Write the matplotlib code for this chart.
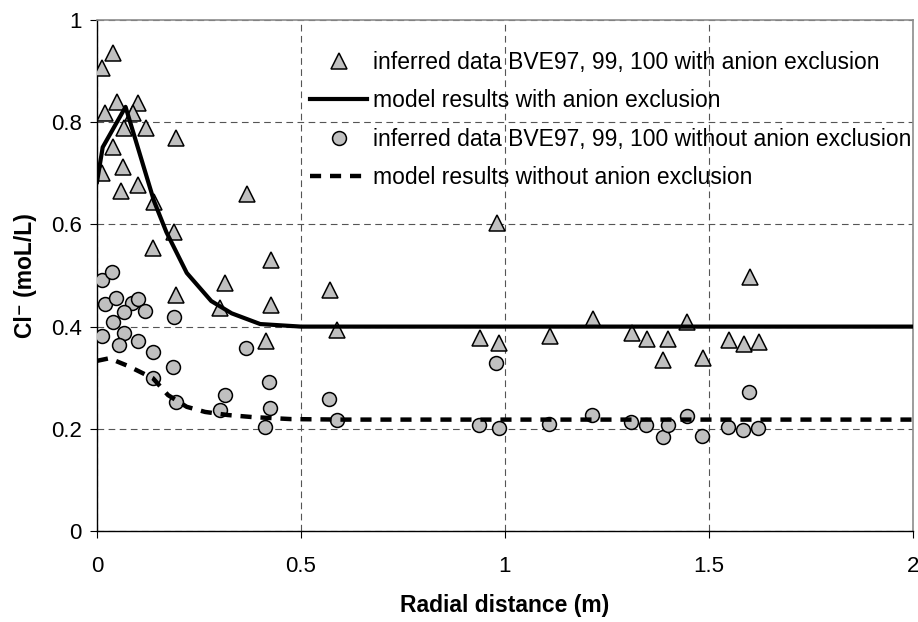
import matplotlib

matplotlib.use("Agg")
import matplotlib.pyplot as plt

plt.rcParams["font.family"] = ["Liberation Sans", "DejaVu Sans"]

# inferred data with anion exclusion (triangles)
with_x = [0.012, 0.040, 0.020, 0.049, 0.101, 0.088, 0.066, 0.119, 0.040, 0.064,
          0.013, 0.058, 0.101, 0.140, 0.193, 0.138, 0.189, 0.367, 0.426, 0.314,
          0.193, 0.426, 0.301, 0.414, 0.571, 0.588, 0.980, 0.939, 0.985, 1.110,
          1.215, 1.311, 1.348, 1.400, 1.388, 1.446, 1.485, 1.549, 1.586, 1.623,
          1.600]
with_y = [0.906, 0.935, 0.818, 0.840, 0.838, 0.818, 0.789, 0.789, 0.752, 0.713,
          0.700, 0.666, 0.678, 0.643, 0.769, 0.553, 0.586, 0.659, 0.530, 0.485,
          0.462, 0.442, 0.436, 0.372, 0.472, 0.393, 0.603, 0.378, 0.368, 0.381,
          0.414, 0.388, 0.375, 0.375, 0.335, 0.409, 0.338, 0.374, 0.366, 0.370,
          0.497]

# inferred data without anion exclusion (circles)
without_x = [0.012, 0.037, 0.019, 0.047, 0.086, 0.100, 0.065, 0.118, 0.189, 0.038,
             0.012, 0.065, 0.055, 0.100, 0.137, 0.186, 0.137, 0.193, 0.364, 0.422,
             0.314, 0.301, 0.424, 0.412, 0.569, 0.588, 0.978, 0.936, 0.985, 1.108,
             1.213, 1.309, 1.345, 1.387, 1.400, 1.446, 1.483, 1.547, 1.583, 1.620,
             1.598]
without_y = [0.491, 0.507, 0.444, 0.456, 0.446, 0.454, 0.429, 0.430, 0.418, 0.409,
             0.382, 0.388, 0.364, 0.371, 0.350, 0.320, 0.300, 0.252, 0.358, 0.292,
             0.266, 0.237, 0.241, 0.204, 0.258, 0.217, 0.329, 0.207, 0.202, 0.209,
             0.227, 0.213, 0.207, 0.184, 0.207, 0.225, 0.186, 0.204, 0.198, 0.201,
             0.272]

# model results with anion exclusion
model_with_x = [0.0, 0.014, 0.07, 0.14, 0.17, 0.22, 0.28, 0.33, 0.4, 0.5, 0.6, 0.7,
                0.8, 0.9, 1.0, 1.1, 1.2, 1.3, 1.4, 1.5, 1.6, 1.7, 1.8, 1.9, 2.0]
model_with_y = [0.683, 0.751, 0.830, 0.645, 0.585, 0.505, 0.450, 0.426, 0.405, 0.400,
                0.400, 0.400, 0.400, 0.400, 0.400, 0.400, 0.400, 0.400, 0.400, 0.400,
                0.400, 0.400, 0.400, 0.400, 0.400]

# model results without anion exclusion
model_without_x = [0.0, 0.03, 0.076, 0.137, 0.174, 0.22, 0.265, 0.32, 0.38, 0.475, 0.6,
                   0.7, 0.8, 0.9, 1.0, 1.1, 1.2, 1.3, 1.4, 1.5, 1.6, 1.7, 1.8, 1.9, 2.0]
model_without_y = [0.333, 0.338, 0.323, 0.299, 0.266, 0.243, 0.233, 0.227, 0.223, 0.219,
                   0.218, 0.218, 0.218, 0.218, 0.218, 0.218, 0.218, 0.218, 0.218, 0.218,
                   0.218, 0.218, 0.218, 0.218, 0.218]

fig = plt.figure(figsize=(9.18, 6.22), dpi=100)
ax = fig.add_axes([97 / 918, 1 - 531 / 622, 816 / 918, 511 / 622])

ax.plot(with_x, with_y, linestyle="none", marker="^", markersize=11,
        markerfacecolor="#c0c0c0", markeredgecolor="black", markeredgewidth=1.1,
        label="inferred data BVE97, 99, 100 with anion exclusion", zorder=3)
ax.plot(model_with_x, model_with_y, color="black", linewidth=3.0,
        label="model results with anion exclusion", zorder=4)
ax.plot(without_x, without_y, linestyle="none", marker="o", markersize=10,
        markerfacecolor="#c0c0c0", markeredgecolor="black", markeredgewidth=1.1,
        label="inferred data BVE97, 99, 100 without anion exclusion", zorder=3)
ax.plot(model_without_x, model_without_y, color="black", linewidth=3.2,
        dashes=(2.5, 2.0), label="model results without anion exclusion", zorder=4)

ax.set_xlim(0, 2)
ax.set_ylim(0, 1)
ax.set_xticks([0, 0.5, 1, 1.5, 2])
ax.set_xticklabels(["0", "0.5", "1", "1.5", "2"])
ax.set_yticks([0, 0.2, 0.4, 0.6, 0.8, 1])
ax.set_yticklabels(["0", "0.2", "0.4", "0.6", "0.8", "1"])
ax.tick_params(direction="out", length=5, width=0.8, labelsize=16)
ax.tick_params(axis="x", pad=13)
ax.tick_params(axis="y", pad=6)

ax.grid(True, color="#555555", linewidth=0.8, dashes=(6, 4))
ax.set_axisbelow(True)
for side in ("top", "right"):
    ax.spines[side].set_color("#8c8c8c")
    ax.spines[side].set_linewidth(1.2)
for side in ("left", "bottom"):
    ax.spines[side].set_color("black")
    ax.spines[side].set_linewidth(1.0)

ax.set_xlabel("Radial distance (m)", fontsize=16.5, fontweight="bold", labelpad=12)
ax.set_ylabel("Cl\u207b (moL/L)", fontsize=16.5, fontweight="bold", labelpad=10)

ax.legend(loc="upper left", bbox_to_anchor=(0.261, 0.94), frameon=False,
          fontsize=16.5, handlelength=2.5, handletextpad=0.27, labelspacing=0.68,
          borderpad=0.0, borderaxespad=0.0)

fig.savefig("out.png", dpi=100)
plt.close(fig)
